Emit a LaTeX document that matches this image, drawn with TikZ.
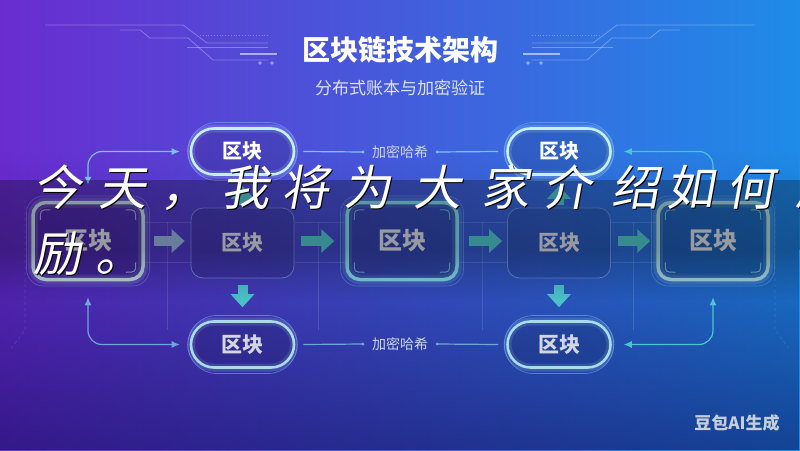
\documentclass[tikz,border=0pt]{standalone}
\usepackage{fontspec}
\newfontfamily\cjk{Noto Sans CJK SC}
\newfontfamily\cjkhand[FakeSlant=0.18]{Noto Sans CJK SC}
\usetikzlibrary{shapes.misc,arrows.meta,fadings}
\definecolor{bgL}{HTML}{6A2CD0}
\definecolor{bgM}{HTML}{3C4ED8}
\definecolor{bgR}{HTML}{1E8CE8}
\definecolor{glowA}{HTML}{C4F0FF}
\definecolor{pillB}{HTML}{A8DCEC}
\definecolor{ringC}{HTML}{7FB6F2}
\definecolor{boxA}{HTML}{BCD6DE}
\definecolor{boxC}{HTML}{7CD4E4}
\definecolor{boxE}{HTML}{A2D2DE}
\definecolor{plainB}{HTML}{6A86D4}
\definecolor{txtG}{HTML}{D2D6E0}
\definecolor{arrA}{HTML}{8FAED6}
\definecolor{arrT}{HTML}{4CC0C8}
\definecolor{lineA}{HTML}{78C4F0}
\definecolor{lineB}{HTML}{6AA8DA}
\definecolor{lineT}{HTML}{4CC4D4}
\definecolor{subC}{HTML}{DDE2F6}
\definecolor{labC}{HTML}{CDD6F4}
\definecolor{wmC}{HTML}{C6CEDC}
\definecolor{darkB}{HTML}{0A0850}
\tikzfading[name=fadeup, top color=transparent!100, bottom color=transparent!0]
\tikzfading[name=fadedownband, top color=transparent!0, bottom color=transparent!100]
\newcommand\cornerticks[2]{%
 \draw[#2, line width=1pt, opacity=0.7]
  ([shift={(9,19)}]#1.north west) .. controls ([shift={(9,9)}]#1.north west) .. ([shift={(19,9)}]#1.north west)
  ([shift={(-19,9)}]#1.north east) .. controls ([shift={(-9,9)}]#1.north east) .. ([shift={(-9,19)}]#1.north east)
  ([shift={(9,-19)}]#1.south west) .. controls ([shift={(9,-9)}]#1.south west) .. ([shift={(19,-9)}]#1.south west)
  ([shift={(-19,-9)}]#1.south east) .. controls ([shift={(-9,-9)}]#1.south east) .. ([shift={(-9,-19)}]#1.south east);}
\begin{document}
\begin{tikzpicture}[x=1pt,y=-1pt,
 cjkb/.style={font=\cjk\bfseries\fontsize{#1}{#1}\selectfont},
 pill/.style={rounded rectangle, minimum width=103pt, minimum height=46pt, inner sep=0pt, line width=2.6pt, draw=#1, fill=black, fill opacity=0.12, text opacity=1, preaction={draw=#1, line width=8pt, opacity=0.18}},
 pillring/.style={rounded rectangle, minimum width=116pt, minimum height=58pt, draw=ringC, line width=0.7pt, draw opacity=0.55},
 gbox/.style={rectangle, rounded corners=13pt, minimum width=110pt, minimum height=77pt, inner sep=0pt, line width=3.5pt, draw=#1, fill=black, fill opacity=0.15, text opacity=1, preaction={draw=#1, line width=10pt, opacity=0.18}},
 gring/.style={rectangle, rounded corners=17pt, minimum width=123pt, minimum height=90pt, draw=ringC, line width=0.7pt, draw opacity=0.45},
 pbox/.style={rectangle, rounded corners=12pt, minimum width=103pt, minimum height=70pt, inner sep=0pt, draw=plainB, line width=0.8pt, fill=black, fill opacity=0.1, text opacity=1},
 barrow/.style={draw=#1, line width=10pt, -{Triangle[length=13pt,width=23pt]}},
 conn/.style={draw=#1, line width=1.2pt, rounded corners=14pt},
 tiptwo/.style={{Latex[length=8pt,width=7pt]}-{Latex[length=8pt,width=7pt]}},
 faint/.style={draw=white, draw opacity=0.13, line width=0.6pt},
 deco/.style={draw=white, draw opacity=0.3, line width=0.8pt},
 subt/.style={font=\cjkhand\fontsize{48}{48}\selectfont, text=white, inner sep=0pt, anchor=base},
 subts/.style={font=\cjkhand\fontsize{48}{48}\selectfont, text=black, inner sep=0pt, anchor=base},
]
\useasboundingbox (0,0) rectangle (800,450);
\clip (0,0) rectangle (800,450);
\shade[left color=bgL, middle color=bgM, right color=bgR] (0,0) rectangle (800,450);
\fill[darkB, opacity=0.55, path fading=fadeup] (0,150) rectangle (800,450);

% decorative top lines
\draw[deco] (45,25) -- (183,25) -- (207,43) -- (268,43);
\draw[deco] (120,30) -- (140,30) -- (150,38) -- (188,38) -- (213,60) -- (268,60);
\draw[deco, dotted] (200,35) -- (268,35);
\draw[deco] (187,47) -- (268,47);
\draw[deco, line width=2pt, draw opacity=0.55] (240,54) -- (277,54);
\fill[white, opacity=0.45] (260,63) circle (1.8) (272,63) circle (1.8);
\draw[deco] (755,25) -- (617,25) -- (593,43) -- (532,43);
\draw[deco] (680,30) -- (660,30) -- (650,38) -- (612,38) -- (587,60) -- (532,60);
\draw[deco, dotted] (600,35) -- (532,35);
\draw[deco] (613,47) -- (532,47);
\draw[deco, line width=2pt, draw opacity=0.55] (560,54) -- (523,54);
\fill[white, opacity=0.45] (528,63) circle (1.8) (541,63) circle (1.8);

% faint frames
\draw[faint] (167,222) -- (167,330) (318,222) -- (318,330) (482,222) -- (482,330) (633,222) -- (633,330);
\draw[faint] (143,222) -- (192,222) (143,262) -- (192,262) (295,222) -- (347,222) (295,262) -- (347,262)
 (457,222) -- (507,222) (457,262) -- (507,262) (610,222) -- (658,222) (610,262) -- (658,262);
\draw[faint, dashed] (25,200) -- (25,330) -- (10,350);
\draw[faint, dashed] (775,200) -- (775,330) -- (790,350);

% middle row
\node[gring] (m1r) at (88,241) {};
\node[gbox=boxA, text=txtG, cjkb=24] (m1) at (88,241) {区块};
\cornerticks{m1}{boxA}
\node[pbox, text=txtG, cjkb=21] (m2) at (242.5,243) {区块};
\node[gring] (m3r) at (402,241) {};
\node[gbox=boxC, text=txtG, cjkb=24] (m3) at (402,241) {区块};
\cornerticks{m3}{boxC}
\node[pbox, text=txtG, cjkb=21] (m4) at (559,243) {区块};
\node[gring] (m5r) at (713,241) {};
\node[gbox=boxE, text=txtG, cjkb=24] (m5) at (713,241) {区块};
\cornerticks{m5}{boxE}

% pills
\node[pillring] (t1r) at (242.5,151.5) {};
\node[pill=glowA, text=white, cjkb=20] (t1) at (242.5,151.5) {区块};
\node[pillring] (t2r) at (559,151.5) {};
\node[pill=glowA, text=white, cjkb=20] (t2) at (559,151.5) {区块};
\node[pillring] (b1r) at (242.5,344.5) {};
\node[pill=pillB, text=txtG, cjkb=21] (b1) at (242.5,344.5) {区块};
\node[pillring] (b2r) at (559,344.5) {};
\node[pill=pillB, text=txtG, cjkb=21] (b2) at (559,344.5) {区块};

% labels
\node[font=\cjk\fontsize{14}{14}\selectfont, text=labC, inner sep=0pt] (h1) at (400,152) {加密哈希};
\node[font=\cjk\fontsize{14}{14}\selectfont, text=labC, inner sep=0pt] (h2) at (400,344) {加密哈希};

% connectors
\draw[conn=lineA, tiptwo] ([shift={(0,-16)}]m1.north) |- ([shift={(-10,0)}]t1.west);
\draw[conn=lineB, tiptwo] ([shift={(0,16)}]m1.south) |- ([shift={(-10,0)}]b1.west);
\draw[conn=lineT, tiptwo] ([shift={(0,-16)}]m5.north) |- ([shift={(12,0)}]t2.east);
\draw[conn=lineT, tiptwo] ([shift={(0,16)}]m5.south) |- ([shift={(12,0)}]b2.east);
\draw[conn=lineA] ([shift={(8,0)}]t1.east) -- ([shift={(-9,0)}]h1.west);
\draw[conn=lineA] ([shift={(9,0)}]h1.east) -- ([shift={(-8,0)}]t2.west);
\fill[lineA] ([shift={(-9,0)}]h1.west) circle (1.7) ([shift={(9,0)}]h1.east) circle (1.7);
\draw[conn=lineB] ([shift={(8,0)}]b1.east) -- ([shift={(-9,0)}]h2.west);
\draw[conn=lineB] ([shift={(9,0)}]h2.east) -- ([shift={(-8,0)}]b2.west);
\fill[lineB] ([shift={(-9,0)}]h2.west) circle (1.7) ([shift={(9,0)}]h2.east) circle (1.7);

% block arrows
\draw[barrow=arrA] ([shift={(9,0)}]m1.east) -- ([shift={(-6,0)}]m2.west |- m1.east);
\draw[barrow=arrT] ([shift={(7,0)}]m2.east |- m3.west) -- ([shift={(-11,0)}]m3.west);
\draw[barrow=arrT] ([shift={(10,0)}]m3.east) -- ([shift={(-5,0)}]m4.west |- m3.east);
\draw[barrow=arrT] ([shift={(7,0)}]m4.east |- m5.west) -- ([shift={(-6,0)}]m5.west);
\draw[barrow=arrT] ([shift={(0,7)}]m2.south) -- ([shift={(0,-13)}]b1.north);
\draw[barrow=arrT] ([shift={(0,7)}]m4.south) -- ([shift={(0,-13)}]b2.north);
\draw[barrow=arrT] ([shift={(0,-3)}]m2.north) -- ([shift={(0,10)}]t1.south);
\draw[barrow=arrT] ([shift={(0,-3)}]m4.north) -- ([shift={(0,10)}]t2.south);

% titles
\node[cjkb=28, text=white] (ttl) at (400,50) {区块链技术架构};
\node[font=\cjk\fontsize{17}{17}\selectfont, text=subC] (sub) at (400,88) {分布式账本与加密验证};

% overlay band and subtitle
\fill[black, opacity=0.28] (0,180) rectangle (800,250);
\fill[black, opacity=0.28, path fading=fadedownband] (0,250) rectangle (800,300);
\foreach \ch/\xx [count=\k] in {今/57,天/122,，/184,我/245,将/305,为/367,大/437,家/505,介/567,绍/635,如/690,何/750,激/818}{
 \node[subts] (sa\k) at (\xx+1.5,206.5) {\ch};
 \node[subt] (sb\k) at (\xx,205) {\ch};
}
\node[subts] (la1) at (58.5,272.5) {励};
\node[subt] (lb1) at (57,271) {励};
\node[subts] (la2) at (120.5,272.5) {。};
\node[subt] (lb2) at (119,271) {。};

% watermark
\node[cjkb=17, text=wmC] (wm) at (737,423) {豆包AI生成};
\end{tikzpicture}
\end{document}
